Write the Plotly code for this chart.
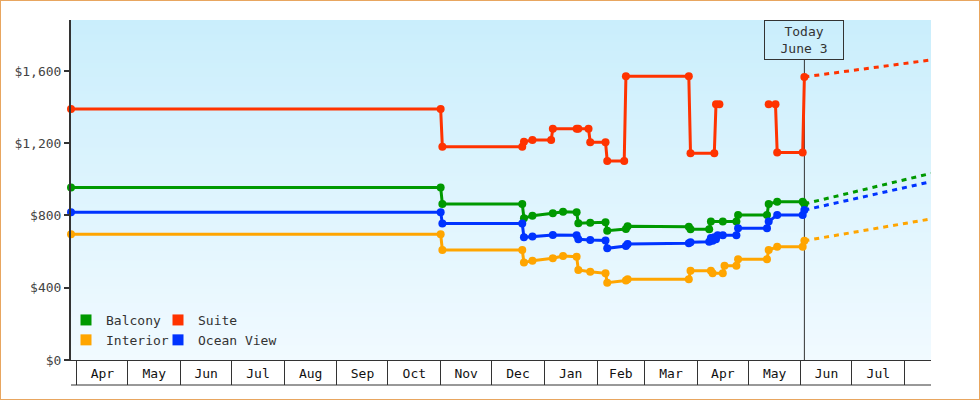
import base64
import struct
import zlib

import pandas as pd
import plotly.graph_objects as go

# ---------------- data ----------------
SUITE_DATES = ["2022-03-28 12:00", "2022-11-01", "2022-11-02", "2022-12-19", "2022-12-20", "2022-12-25",
               "2023-01-05", "2023-01-06", "2023-01-20", "2023-01-21", "2023-01-27", "2023-01-28",
               "2023-02-06", "2023-02-07", "2023-02-17", "2023-02-18", "2023-03-27", "2023-03-28",
               "2023-04-11", "2023-04-12", "2023-04-14", "2023-04-28", "2023-05-13", "2023-05-17",
               "2023-05-18", "2023-06-02", "2023-06-03"]
SUITE_PRICES = [1390, 1390, 1180, 1180, 1208, 1218, 1218, 1280, 1280, 1280, 1280, 1205, 1205, 1102,
                1102, 1570, 1570, 1145, 1145, 1416, 1416, None, 1416, 1416, 1148, 1148, 1567]

BALCONY_DATES = ["2022-03-28 12:00", "2022-11-01", "2022-11-02", "2022-12-19", "2022-12-20", "2022-12-25",
                 "2023-01-06", "2023-01-12", "2023-01-20", "2023-01-21", "2023-01-28", "2023-02-06",
                 "2023-02-07", "2023-02-18", "2023-02-19", "2023-03-27", "2023-03-28", "2023-04-08",
                 "2023-04-09", "2023-04-16", "2023-04-24", "2023-04-25", "2023-05-12", "2023-05-13",
                 "2023-05-18", "2023-06-02", "2023-06-03"]
BALCONY_PRICES = [955, 955, 864, 864, 785, 798, 812, 821, 818, 757, 760, 762, 716, 725, 740, 738, 724,
                  724, 766, 766, 766, 803, 803, 864, 876, 876, 864]

OCEAN_DATES = ["2022-03-28 12:00", "2022-11-01", "2022-11-02", "2022-12-19", "2022-12-20", "2022-12-25",
               "2023-01-06", "2023-01-20", "2023-01-21", "2023-01-28", "2023-02-06", "2023-02-07",
               "2023-02-18", "2023-02-19", "2023-03-27", "2023-03-28", "2023-04-08", "2023-04-09",
               "2023-04-10", "2023-04-11", "2023-04-12", "2023-04-13", "2023-04-16", "2023-04-24",
               "2023-04-25", "2023-05-12", "2023-05-13", "2023-05-18", "2023-06-02", "2023-06-03"]
OCEAN_PRICES = [818, 818, 755, 755, 679, 683, 692, 690, 668, 664, 661, 618, 631, 642, 646, 652, 655,
                675, 660, 680, 668, 690, 690, 690, 729, 729, 766, 803, 803, 830]

INTERIOR_DATES = ["2022-03-28 12:00", "2022-11-01", "2022-11-02", "2022-12-19", "2022-12-20", "2022-12-25",
                  "2023-01-06", "2023-01-12", "2023-01-20", "2023-01-21", "2023-01-28", "2023-02-06",
                  "2023-02-07", "2023-02-18", "2023-02-19", "2023-03-27", "2023-03-28", "2023-04-09",
                  "2023-04-10", "2023-04-16", "2023-04-17", "2023-04-24", "2023-04-25", "2023-05-12",
                  "2023-05-13", "2023-05-18", "2023-06-02", "2023-06-03"]
INTERIOR_PRICES = [696, 696, 609, 609, 539, 550, 563, 576, 572, 498, 489, 480, 428, 440, 447, 447, 494,
                   494, 480, 480, 522, 522, 557, 557, 609, 627, 627, 660]

FORECAST_DATES = ["2023-06-03", "2023-08-16 12:00"]
SUITE_FORECAST = [1567, 1661]
BALCONY_FORECAST = [864, 1033]
OCEAN_FORECAST = [830, 987]
INTERIOR_FORECAST = [660, 781]

TODAY = "2023-06-03"
TODAY_LABEL = "Today<br>June 3"

MONTH_STARTS = ["2022-04-01", "2022-05-01", "2022-06-01", "2022-07-01", "2022-08-01", "2022-09-01",
                "2022-10-01", "2022-11-01", "2022-12-01", "2023-01-01", "2023-02-01", "2023-03-01",
                "2023-04-01", "2023-05-01", "2023-06-01", "2023-07-01", "2023-08-01"]
MONTH_LABELS = ["Apr", "May", "Jun", "Jul", "Aug", "Sep", "Oct", "Nov", "Dec", "Jan", "Feb", "Mar",
                "Apr", "May", "Jun", "Jul"]
Y_TICKS = [0, 400, 800, 1200, 1600]
Y_TICK_LABELS = ["$0", "$400", "$800", "$1,200", "$1,600"]

# ---------------- style ----------------
FONT = "DejaVu Sans Mono"
TXT = "#333333"
COLORS = {"Balcony": "#009900", "Suite": "#ff3300", "Interior": "#ffa500", "Ocean View": "#0033ff"}
X_RANGE = ["2022-03-28 12:00", "2023-08-16 12:00"]
Y_RANGE = [0, 1882]
W, H = 980, 400
ML, MR, MT, MB = 71, 49, 20, 40
PW, PH = W - ML - MR, H - MT - MB


def gradient_png(top, bottom, h):
    w = 2
    raw = b""
    for i in range(h):
        t = i / (h - 1)
        c = bytes(round(top[k] + (bottom[k] - top[k]) * t) for k in range(3))
        raw += b"\x00" + c * w

    def chunk(tag, data):
        return struct.pack(">I", len(data)) + tag + data + struct.pack(">I", zlib.crc32(tag + data) & 0xffffffff)

    png = (b"\x89PNG\r\n\x1a\n" + chunk(b"IHDR", struct.pack(">IIBBBBB", w, h, 8, 2, 0, 0, 0))
           + chunk(b"IDAT", zlib.compress(raw)) + chunk(b"IEND", b""))
    return "data:image/png;base64," + base64.b64encode(png).decode()


starts = pd.to_datetime(MONTH_STARTS)
mids = [starts[i] + (starts[i + 1] - starts[i]) / 2 for i in range(len(starts) - 1)]

fig = go.Figure()

series = [
    ("Suite", SUITE_DATES, SUITE_PRICES, SUITE_FORECAST),
    ("Balcony", BALCONY_DATES, BALCONY_PRICES, BALCONY_FORECAST),
    ("Ocean View", OCEAN_DATES, OCEAN_PRICES, OCEAN_FORECAST),
    ("Interior", INTERIOR_DATES, INTERIOR_PRICES, INTERIOR_FORECAST),
]
for name, dates, prices, fc in series:
    c = COLORS[name]
    fig.add_trace(go.Scatter(x=FORECAST_DATES, y=fc, mode="lines", showlegend=False, hoverinfo="skip",
                             line=dict(color=c, width=3, dash="5px,5px")))
    fig.add_trace(go.Scatter(x=dates, y=prices, mode="lines+markers", name=name, showlegend=False,
                             connectgaps=False, cliponaxis=False,
                             line=dict(color=c, width=3), marker=dict(color=c, size=8)))

# legend entries (square swatches), two columns
for name, lg in [("Balcony", "legend"), ("Interior", "legend"), ("Suite", "legend2"), ("Ocean View", "legend2")]:
    fig.add_trace(go.Scatter(x=[None], y=[None], mode="markers", name=name, legend=lg,
                             marker=dict(symbol="square", size=11, color=COLORS[name])))

legend_common = dict(bgcolor="rgba(0,0,0,0)", font=dict(family=FONT, size=13, color=TXT),
                     orientation="v", xanchor="left", yanchor="top", itemwidth=30,
                     tracegroupgap=0, traceorder="normal")

fig.update_layout(
    width=W, height=H,
    margin=dict(l=ML, r=MR, t=MT, b=MB, pad=0),
    paper_bgcolor="white",
    plot_bgcolor="rgba(0,0,0,0)",
    font=dict(family=FONT, size=13, color=TXT),
    showlegend=True,
    legend=dict(x=(66 - ML) / PW, y=(MT + PH - 305) / PH, **legend_common),
    legend2=dict(x=(158 - ML) / PW, y=(MT + PH - 305) / PH, **legend_common),
    images=[dict(source=gradient_png((202, 238, 252), (241, 250, 255), PH), xref="paper", yref="paper",
                 x=0, y=1, sizex=1, sizey=1, sizing="stretch", xanchor="left", yanchor="top",
                 layer="below")],
    xaxis=dict(type="date", range=X_RANGE, showgrid=False, zeroline=False,
               showline=True, linecolor=TXT, linewidth=1,
               tickmode="array", tickvals=mids, ticktext=MONTH_LABELS,
               ticks="outside", ticklen=1, tickcolor="rgba(0,0,0,0)",
               tickfont=dict(family=FONT, size=13, color="#111111"),
               minor=dict(tickmode="array", tickvals=list(starts), ticks="outside", ticklen=24,
                          tickwidth=1, tickcolor=TXT, showgrid=False)),
    yaxis=dict(range=Y_RANGE, showgrid=False, zeroline=False,
               showline=True, linecolor=TXT, linewidth=2,
               tickmode="array", tickvals=Y_TICKS, ticktext=Y_TICK_LABELS,
               ticks="outside", ticklen=5, tickwidth=2, tickcolor=TXT,
               tickfont=dict(family=FONT, size=13, color="#444444")),
    hovermode=False,
)

# today marker line and label box
fig.add_shape(type="line", xref="x", yref="paper", x0=TODAY, x1=TODAY, y0=0, y1=(PH - 40) / PH,
              line=dict(color=TXT, width=1), layer="below")
fig.add_annotation(x=TODAY, xref="x", y=1, yref="paper", xanchor="center", yanchor="top",
                   text=TODAY_LABEL, showarrow=False, width=76, height=36, borderpad=1,
                   bordercolor=TXT, borderwidth=1, bgcolor="rgba(0,0,0,0)",
                   font=dict(family=FONT, size=13, color=TXT))

# bottom rule of the month strip
fig.add_shape(type="line", xref="paper", yref="paper", x0=0, x1=1, y0=-25 / PH, y1=-25 / PH,
              line=dict(color=TXT, width=1))
# outer orange frame
fig.add_shape(type="rect", xref="paper", yref="paper",
              x0=-ML / PW, x1=(W - ML) / PW, y0=-MB / PH, y1=(PH + MT) / PH,
              line=dict(color="#e8a660", width=2), fillcolor="rgba(0,0,0,0)")

fig.write_html("out.html")
